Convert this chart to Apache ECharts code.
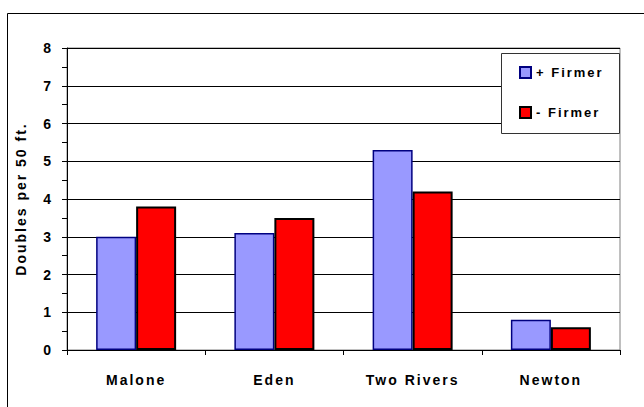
<!DOCTYPE html>
<html>
<head>
<meta charset="utf-8">
<script src="https://cdn.jsdelivr.net/npm/echarts@6/dist/echarts.min.js"></script>
<style>
  html, body { margin: 0; padding: 0; background: #fff; }
  #chart { width: 644px; height: 407px; }
  /* spaced-out lettering for every label */
  #chart text { letter-spacing: 2px; }
</style>
</head>
<body>
<div id="chart"></div>
<script>
const sites = ['Malone', 'Eden', 'Two Rivers', 'Newton'];
const plusFirmer = [3.0, 3.1, 5.3, 0.8];
const minusFirmer = [3.8, 3.5, 4.2, 0.6];
const seriesNames = ['+ Firmer', '- Firmer'];
const yTicks = [0, 1, 2, 3, 4, 5, 6, 7, 8];
const yTitle = 'Doubles per 50 ft.';

const FONT = '"Liberation Sans", Arial, sans-serif';
const chart = echarts.init(document.getElementById('chart'), null, { renderer: 'svg' });

chart.setOption({
  animation: false,
  backgroundColor: '#fff',
  grid: {
    left: 67, top: 48, right: 24, bottom: 57,
    show: true, borderColor: '#808080', borderWidth: 1, backgroundColor: 'transparent'
  },
  graphic: [
    {
      type: 'rect', z: 0, silent: true,
      shape: { x: 7.5, y: 13.5, width: 700, height: 500 },
      style: { fill: 'none', stroke: '#000', lineWidth: 1 }
    },
    {
      type: 'rect', z: 3, silent: true,
      shape: { x: 501.5, y: 53.5, width: 118, height: 80 },
      style: { fill: '#fff', stroke: '#333', lineWidth: 1 }
    }
  ],
  legend: {
    z: 5,
    orient: 'vertical',
    left: 519, top: 66,
    padding: 0,
    itemWidth: 11, itemHeight: 11, itemGap: 27,
    icon: 'rect',
    data: seriesNames,
    textStyle: { fontFamily: FONT, fontWeight: 'bold', fontSize: 13, color: '#000' }
  },
  xAxis: {
    type: 'category',
    data: sites,
    boundaryGap: true,
    axisLine: { lineStyle: { color: '#000', width: 1 } },
    axisTick: { show: true, length: 5, lineStyle: { color: '#000' } },
    axisLabel: { margin: 23, fontFamily: FONT, fontWeight: 'bold', fontSize: 14, color: '#000' }
  },
  yAxis: {
    type: 'value',
    min: yTicks[0], max: yTicks[yTicks.length - 1], interval: 1,
    name: yTitle,
    nameLocation: 'middle',
    nameGap: 39,
    nameTextStyle: { fontFamily: FONT, fontWeight: 'bold', fontSize: 14, color: '#000' },
    axisLine: { show: true, lineStyle: { color: '#000', width: 1 } },
    axisTick: { show: true, length: 5, lineStyle: { color: '#000' } },
    minorTick: { show: true, splitNumber: 2, length: 5, lineStyle: { color: '#000' } },
    splitLine: { show: true, lineStyle: { color: '#000', width: 1 } },
    axisLabel: { margin: 14, fontFamily: FONT, fontWeight: 'bold', fontSize: 14, color: '#000' }
  },
  series: [
    {
      name: seriesNames[0],
      type: 'bar',
      data: plusFirmer,
      barWidth: 40,
      barGap: '0%',
      itemStyle: { color: '#9999FF', borderColor: '#000080', borderWidth: 1.5 }
    },
    {
      name: seriesNames[1],
      type: 'bar',
      data: minusFirmer,
      barWidth: 40,
      barGap: '0%',
      itemStyle: { color: '#FF0000', borderColor: '#000', borderWidth: 2 }
    }
  ]
});
</script>
</body>
</html>
